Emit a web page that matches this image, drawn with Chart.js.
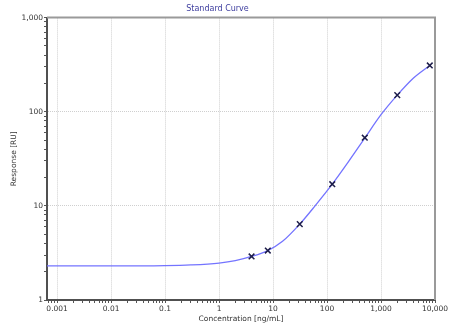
<!DOCTYPE html>
<html>
<head>
<meta charset="utf-8">
<script src="https://cdn.jsdelivr.net/npm/chart.js@4/dist/chart.umd.min.js"></script>
<style>
    html, body { margin: 0; padding: 0; background: #fff; }
    canvas { display: block; }
</style>
</head>
<body>
<canvas id="chart" width="456" height="324"></canvas>
<script>
// standards (concentration in ng/mL, response in RU)
const standardConc = [4, 8, 31.25, 125, 500, 2000, 8000];
const standardResp = [2.9, 3.35, 6.4, 17.0, 53, 150, 310];

// fitted curve
const curveConc = [0.00065, 0.001, 0.01, 0.1, 0.3, 1, 2, 4, 8, 15, 31.25, 60, 125, 250, 500, 1000, 2000, 4000, 8000];
const curveResp = [2.3, 2.3, 2.3, 2.32, 2.36, 2.47, 2.62, 2.9, 3.35, 4.2, 6.4, 10, 17, 29.5, 52.5, 93, 150, 228, 310];

const xRange = [0.00065, 10000];
const yRange = [1, 1000];

const FONT = "'DejaVu Sans', Verdana, sans-serif";

function logTicks(min, max) {
    const out = [];
    for (let k = Math.floor(Math.log10(min)); k <= Math.ceil(Math.log10(max)); k++) {
        for (let m = 1; m <= 9; m++) {
            const v = Number((m * Math.pow(10, k)).toPrecision(3));
            if (v >= min - 1e-12 && v <= max + 1e-9) out.push({ value: v });
        }
    }
    return out;
}

function isMajor(v) {
    const l = Math.log10(v);
    return Math.abs(l - Math.round(l)) < 1e-9;
}

function fmt(v) {
    if (!isMajor(v)) return "";
    return v >= 1 ? v.toLocaleString("en-US") : String(v);
}

const frame = {
    id: "frame",
    afterDraw(chart) {
        const { ctx, chartArea: a } = chart;
        ctx.save();
        ctx.strokeStyle = "#9a9a9a";
        ctx.lineWidth = 2;
        ctx.beginPath();
        ctx.moveTo(a.left, a.top);
        ctx.lineTo(a.right, a.top);
        ctx.lineTo(a.right, a.bottom);
        ctx.stroke();
        ctx.restore();
    }
};

const gridColor = ctx => (ctx.tick && isMajor(ctx.tick.value)) ? "#cfcfcf" : "rgba(0,0,0,0)";

new Chart(document.getElementById("chart"), {
    type: "scatter",
    data: {
        datasets: [
            {
                data: curveConc.map((x, i) => ({ x, y: curveResp[i] })),
                showLine: true,
                borderColor: "#7474ff",
                borderWidth: 1.3,
                pointRadius: 0,
                cubicInterpolationMode: "monotone",
                order: 2
            },
            {
                data: standardConc.map((x, i) => ({ x, y: standardResp[i] })),
                pointStyle: "crossRot",
                pointRadius: 4,
                borderColor: "#1e1e4a",
                borderWidth: 1.5,
                order: 1
            }
        ]
    },
    options: {
        responsive: false,
        animation: false,
        layout: { padding: { right: 21 } },
        plugins: {
            legend: { display: false },
            tooltip: { enabled: false },
            title: {
                display: true,
                text: "Standard Curve",
                color: "#3c3c9e",
                font: { family: FONT, size: 8, weight: "normal" },
                padding: { top: 4, bottom: 4 }
            }
        },
        scales: {
            x: {
                type: "logarithmic",
                min: xRange[0],
                max: xRange[1],
                afterBuildTicks: s => { s.ticks = logTicks(xRange[0], xRange[1]); },
                afterFit: s => { s.height = 24; },
                grid: { color: gridColor, tickColor: "#555", tickLength: 3, lineWidth: 1 },
                border: { color: "#505050", width: 2, dash: [1, 1] },
                ticks: {
                    autoSkip: false, maxRotation: 0, minRotation: 0, padding: 2,
                    color: "#333", font: { family: FONT, size: 7.5 },
                    callback: v => fmt(v)
                },
                title: {
                    display: true, text: "Concentration [ng/mL]", color: "#333",
                    font: { family: FONT, size: 7.5 }, padding: { top: 0, bottom: 0 }
                }
            },
            y: {
                type: "logarithmic",
                min: yRange[0],
                max: yRange[1],
                afterBuildTicks: s => { s.ticks = logTicks(yRange[0], yRange[1]); },
                afterFit: s => { s.width = 47; },
                grid: { color: gridColor, tickColor: "#555", tickLength: 3, lineWidth: 1 },
                border: { color: "#505050", width: 2, dash: [1, 1] },
                ticks: {
                    autoSkip: false, padding: 1,
                    color: "#333", font: { family: FONT, size: 7.5 },
                    callback: v => fmt(v)
                },
                title: {
                    display: true, text: "Response [RU]", color: "#333",
                    font: { family: FONT, size: 7.5 }, padding: { top: 10, bottom: 0 }
                }
            }
        }
    },
    plugins: [frame]
});
</script>
</body>
</html>
